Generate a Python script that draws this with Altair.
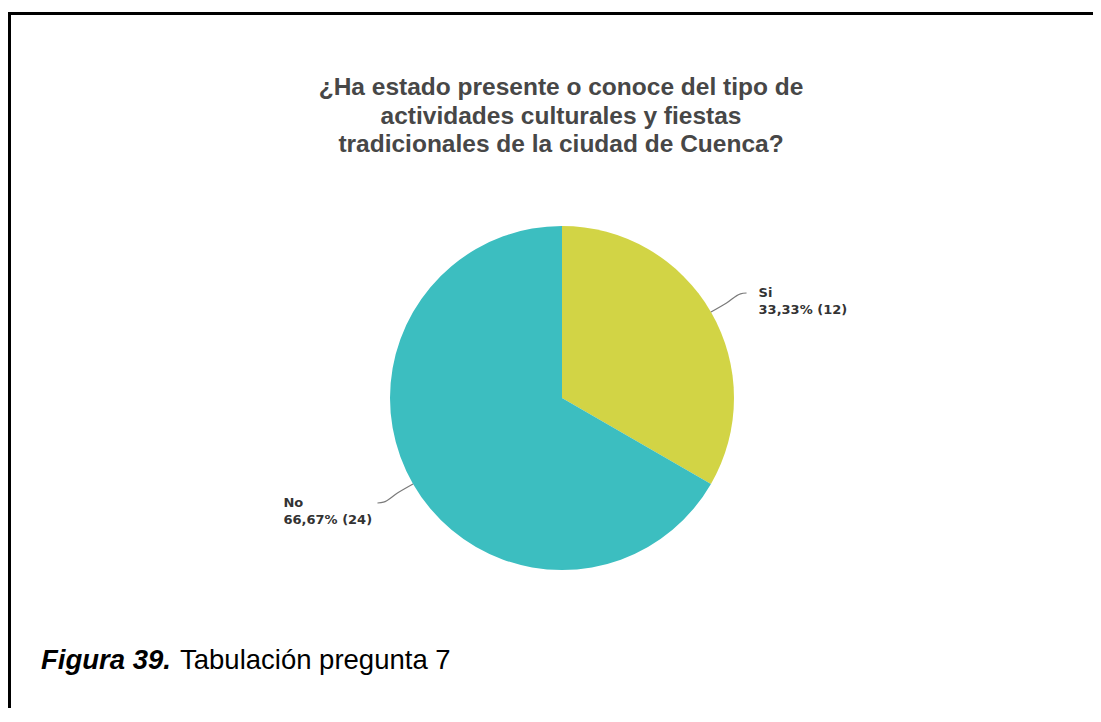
import math
import altair as alt
import pandas as pd

# ---- data ----
categories = ["Si", "No"]
counts = [12, 24]
value_labels = ["33,33% (12)", "66,67% (24)"]
colors = ["#d2d445", "#3cbec0"]
title_lines = [
    "¿Ha estado presente o conoce del tipo de",
    "actividades culturales y fiestas",
    "tradicionales de la ciudad de Cuenca?",
]
caption_bold = "Figura 39."
caption_rest = "Tabulación pregunta 7"

# ---- layout constants ----
W, H = 1085, 700
CX, CY, R = 554, 390, 172

df = pd.DataFrame({"cat": categories, "count": counts, "idx": list(range(len(categories)))})

# leader lines & labels derived from slice angles
total = sum(counts)
rows_line, rows_lab = [], []
start = 0.0
for c, v, lab in zip(categories, counts, value_labels):
    ang = 2 * math.pi * v / total
    mid = start + ang / 2
    start += ang
    sx, sy = math.sin(mid), -math.cos(mid)
    side = 1 if sx >= 0 else -1
    vs = 1 if sy >= 0 else -1
    p0 = (CX + R * sx, CY + R * sy)
    p1 = (CX + (R + 18) * sx, CY + (R + 18) * sy)
    p3 = (p1[0] + side * 20, p1[1] + vs * 10)
    p2 = (p3[0] - side * 6, p3[1] - vs * 0.8)
    for i, p in enumerate([p0, p1, p2, p3]):
        rows_line.append({"cat": c, "i": i, "px": p[0], "py": p[1]})
    tx = p3[0] + 12 if side > 0 else p3[0] - 94
    rows_lab.append({"cat": c, "px": tx, "py": p3[1], "t": c})
    rows_lab.append({"cat": c, "px": tx, "py": p3[1] + 17, "t": lab})

lines_df = pd.DataFrame(rows_line)
labs_df = pd.DataFrame(rows_lab)

pie = alt.Chart(df).mark_arc(outerRadius=R).encode(
    theta=alt.Theta("count:Q", stack=True),
    color=alt.Color("cat:N", scale=alt.Scale(domain=categories, range=colors), legend=None),
    order=alt.Order("idx:Q"),
    x=alt.value(CX),
    y=alt.value(CY),
)

leaders = alt.Chart(lines_df).mark_line(interpolate="monotone", color="#7a7a7a", strokeWidth=1.2).encode(
    x=alt.X("px:Q", scale=None, axis=None),
    y=alt.Y("py:Q", scale=None, axis=None),
    detail="cat:N",
    order="i:Q",
)

labels = alt.Chart(labs_df).mark_text(
    align="left", baseline="middle", font="DejaVu Sans", fontSize=13, fontWeight="bold", color="#333333"
).encode(
    x=alt.X("px:Q", scale=None, axis=None),
    y=alt.Y("py:Q", scale=None, axis=None),
    text="t:N",
)

title_df = pd.DataFrame({"t": title_lines, "ln": list(range(len(title_lines)))})
title_df["py"] = 80 + title_df["ln"] * 28.5
title = alt.Chart(title_df).mark_text(
    align="center", baseline="middle", font="Liberation Sans", fontSize=24.5, fontWeight="bold", color="#474747"
).encode(
    x=alt.value(553),
    y=alt.Y("py:Q", scale=None, axis=None),
    text="t:N",
)

cap1 = alt.Chart(pd.DataFrame({"t": [caption_bold]})).mark_text(
    align="left", baseline="alphabetic", font="Liberation Sans", fontSize=27.5, fontWeight="bold",
    fontStyle="italic", color="#000000"
).encode(x=alt.value(33), y=alt.value(661), text="t:N")

cap2 = alt.Chart(pd.DataFrame({"t": [caption_rest]})).mark_text(
    align="left", baseline="alphabetic", font="Liberation Sans", fontSize=27.5, color="#000000"
).encode(x=alt.value(172), y=alt.value(661), text="t:N")

border_top = alt.Chart(pd.DataFrame({"a": [0]})).mark_rule(color="#000000", strokeWidth=3).encode(
    x=alt.value(0), x2=alt.value(W), y=alt.value(5.5)
)
border_left = alt.Chart(pd.DataFrame({"a": [0]})).mark_rule(color="#000000", strokeWidth=3).encode(
    x=alt.value(1.5), y=alt.value(4), y2=alt.value(H)
)

chart = alt.layer(border_top, border_left, title, pie, leaders, labels, cap1, cap2).properties(
    width=W, height=H, padding=0, autosize="none"
).configure_view(stroke=None)

chart.save("out.html", embed_options={"renderer": "svg", "actions": False})
